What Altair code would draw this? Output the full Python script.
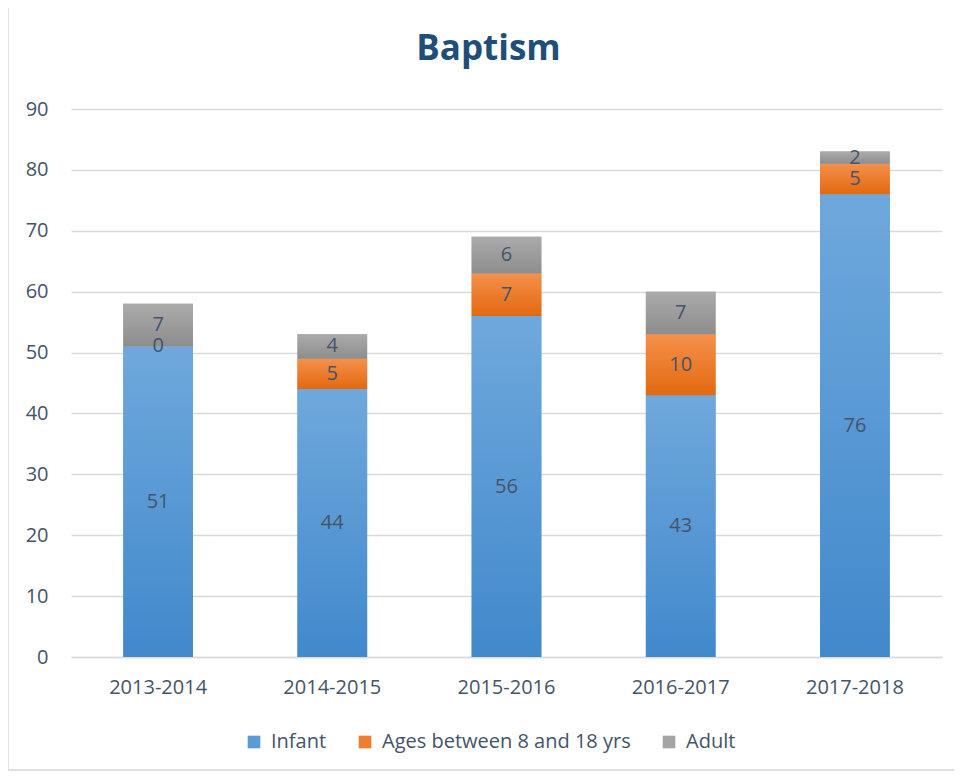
import altair as alt
import pandas as pd

periods = ["2013-2014", "2014-2015", "2015-2016", "2016-2017", "2017-2018"]
infant = [51, 44, 56, 43, 76]
ages = [0, 5, 7, 10, 5]
adult = [7, 4, 6, 7, 2]
series = ["Infant", "Ages between 8 and 18 yrs", "Adult"]
solid_colors = ["#5B9BD5", "#ED7D31", "#A5A5A5"]
grad_stops = [("#6FA8DC", "#4189CC"), ("#F5904C", "#E2690F"), ("#ABABAB", "#8D8D8D")]

rows = []
for s_i, (name, vals) in enumerate(zip(series, [infant, ages, adult])):
    for p, v in zip(periods, vals):
        rows.append({"period": p, "series": name, "value": v, "order": s_i})
df = pd.DataFrame(rows)

FONT = "Open Sans"
TEXT = "#44546A"
W, H = 871, 548

base = alt.Chart(df).transform_stack(
    stack="value", groupby=["period"],
    sort=[alt.SortField("order", order="ascending")], as_=["y0", "y1"]
)

x_enc = alt.X("period:N", sort=periods, title=None,
              scale=alt.Scale(paddingInner=0.6, paddingOuter=0.3),
              axis=alt.Axis(labelAngle=0, ticks=False, domainColor="#D9D9D9",
                            domainWidth=1.5, labelPadding=20, labelFontSize=20,
                            labelColor=TEXT, labelFont=FONT, grid=False))
y_enc = alt.Y("y0:Q", title=None,
              scale=alt.Scale(domain=[0, 90], nice=False),
              axis=alt.Axis(values=list(range(0, 91, 10)), domain=False, ticks=False,
                            labelPadding=23, labelFontSize=20, labelColor=TEXT,
                            labelFont=FONT, gridColor="#D9D9D9", gridWidth=1.3))

border = alt.Chart(df).mark_rect(fill=None, stroke="#DDE1E7", strokeWidth=2).encode(
    x=alt.value(-63), x2=alt.value(W + 40), y=alt.value(-104), y2=alt.value(H + 113)
).transform_filter("datum.order == 0 && datum.period == '2013-2014'")

legend_layer = base.mark_bar().encode(
    x=x_enc, y=y_enc, y2="y1:Q",
    color=alt.Color("series:N", sort=series,
                    scale=alt.Scale(domain=series, range=solid_colors),
                    legend=alt.Legend(title=None, orient="none", direction="horizontal",
                                      legendX=173, legendY=623, symbolType="square",
                                      symbolSize=160, symbolStrokeWidth=0,
                                      labelFontSize=20, labelFont=FONT, labelColor=TEXT,
                                      labelLimit=400, columnPadding=28, labelOffset=7))
)

grad_layers = []
for name, (top, bot) in zip(series, grad_stops):
    g = alt.LinearGradient(gradient="linear",
                           stops=[alt.GradientStop(color=top, offset=0),
                                  alt.GradientStop(color=bot, offset=1)],
                           x1=0, x2=0, y1=0, y2=1)
    grad_layers.append(
        base.transform_filter(alt.datum.series == name).mark_bar(color=g).encode(
            x=x_enc, y=y_enc, y2="y1:Q")
    )

labels = base.transform_calculate(mid="(datum.y0 + datum.y1) / 2").mark_text(
    font=FONT, fontSize=20, color=TEXT, baseline="middle"
).encode(x=x_enc, y=alt.Y("mid:Q", scale=alt.Scale(domain=[0, 90], nice=False)),
         text="value:Q")

chart = alt.layer(border, legend_layer, *grad_layers, labels).properties(
    width=W, height=H,
    autosize=alt.AutoSizeParams(type="none"),
    padding={"left": 63, "top": 101, "right": 12, "bottom": 114},
    title=alt.TitleParams("Baptism", font=FONT, fontSize=35, fontWeight="bold",
                          color="#1F4E79", anchor="middle", dx=-18, offset=-91,
                          baseline="alphabetic"),
).configure_view(stroke=None)

chart.save("out.html", embed_options={"renderer": "svg", "actions": False})
